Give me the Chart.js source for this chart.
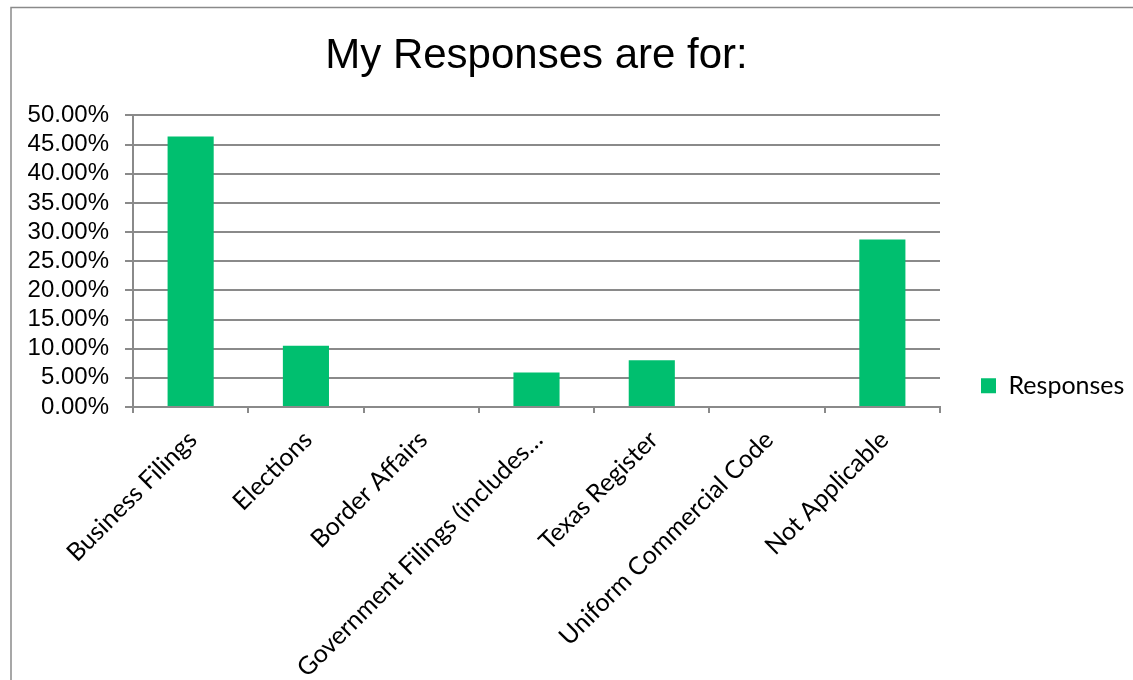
<!DOCTYPE html>
<html>
<head>
<meta charset="utf-8">
<title>My Responses are for:</title>
<script src="https://cdn.jsdelivr.net/npm/chart.js@4/dist/chart.umd.min.js"></script>
<style>
  html, body { margin: 0; padding: 0; background: #fff; }
  #wrap { position: relative; width: 1133px; height: 680px; }
</style>
</head>
<body>
<div id="wrap"><canvas id="myChart" width="1133" height="680"></canvas></div>
<script>
// Survey answers, share of respondents per area
var categories = ['Business Filings', 'Elections', 'Border Affairs', 'Government Filings (includes\u2026',
                  'Texas Register', 'Uniform Commercial Code', 'Not Applicable'];
var responses = [46.4, 10.5, 0, 5.9, 8.0, 0, 28.7];
var seriesName = 'Responses';
var yMin = 0, yMax = 50, yStep = 5;

var gridGray = '#8a8a8a';
var legendWidth = 193;

// thin frame round the chart, like the worksheet chart border
var framePlugin = {
  id: 'frame',
  beforeDraw: function(chart) {
    var c = chart.ctx;
    c.save();
    c.strokeStyle = '#8a8a8a';
    c.lineWidth = 1.5;
    c.beginPath();
    c.moveTo(11, chart.height);
    c.lineTo(11, 7.5);
    c.lineTo(chart.width, 7.5);
    c.stroke();
    c.restore();
  }
};

// keep the legend column a fixed width and centre its entry beside the plot
var legendBoxPlugin = {
  id: 'legendBox',
  beforeLayout: function(chart) {
    var lg = chart.legend;
    if (lg && !lg._fixedFit) {
      var fit = lg.fit;
      lg.fit = function() {
        fit.call(this);
        this.width = legendWidth;
      };
      lg._fixedFit = true;
    }
  },
  afterLayout: function(chart) {
    var lg = chart.legend;
    if (lg) {
      lg.top = chart.chartArea.top;
      lg.bottom = chart.height - 24;
      lg.height = lg.bottom - lg.top;
    }
  }
};

function displayChart() {
  var ctx = document.getElementById('myChart').getContext('2d');

  var myChart = new Chart(ctx, {
    type: 'bar',
    data: {
      labels: categories,
      datasets: [{
        label: seriesName,
        data: responses,
        backgroundColor: '#00BF6F',
        borderWidth: 0,
        barPercentage: 0.4,
        categoryPercentage: 1.0
      }]
    },
    options: {
      responsive: false,
      animation: false,
      layout: { padding: 0 },
      plugins: {
        title: {
          display: true,
          fullSize: false,
          text: 'My Responses are for:',
          color: '#000',
          font: { family: 'Liberation Sans, Arial, sans-serif', size: 42, weight: 'normal' },
          padding: { top: 31, bottom: 34 }
        },
        legend: {
          position: 'right',
          align: 'center',
          labels: {
            color: '#000',
            boxWidth: 15,
            boxHeight: 15,
            padding: 41,
            font: { family: 'Lato, sans-serif', size: 25 }
          }
        },
        tooltip: { enabled: false }
      },
      scales: {
        x: {
          offset: true,
          grid: {
            display: true,
            offset: true,
            drawOnChartArea: false,
            drawTicks: true,
            tickLength: 6,
            color: gridGray,
            lineWidth: 2
          },
          border: { display: true, color: gridGray, width: 2 },
          ticks: {
            color: '#000',
            autoSkip: false,
            minRotation: 45,
            maxRotation: 45,
            padding: 12,
            labelOffset: 2,
            font: { family: 'Lato, sans-serif', size: 25 }
          },
          afterFit: function(scale) { scale.height = 680 - 407; }
        },
        y: {
          min: yMin,
          max: yMax,
          grid: {
            color: gridGray,
            lineWidth: 2,
            drawTicks: true,
            tickLength: 8
          },
          border: { display: true, color: gridGray, width: 2 },
          ticks: {
            stepSize: yStep,
            autoSkip: false,
            color: '#000',
            padding: 16,
            font: { family: 'Liberation Sans, Arial, sans-serif', size: 24 },
            callback: function(v) { return v.toFixed(2) + '%'; }
          },
          afterFit: function(scale) { scale.width = 133; }
        }
      }
    },
    plugins: [framePlugin, legendBoxPlugin]
  });
}

displayChart();
</script>
</body>
</html>
